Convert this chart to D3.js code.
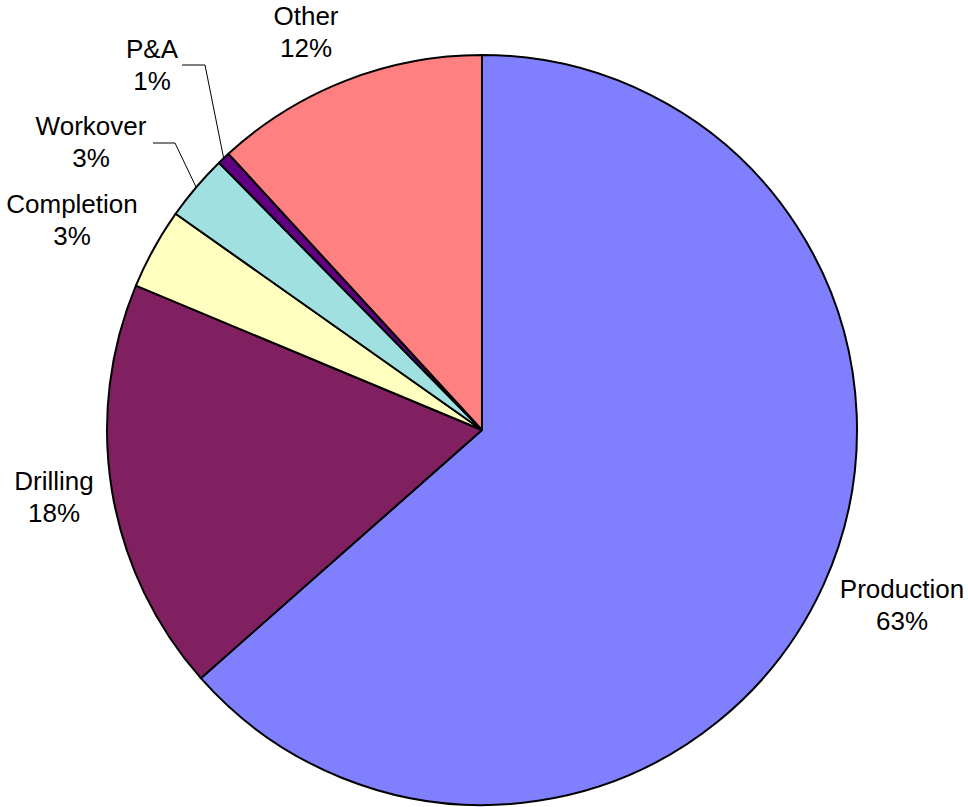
<!DOCTYPE html>
<html>
<head>
<meta charset="utf-8">
<script src="https://cdn.jsdelivr.net/npm/d3@7"></script>
<style>
  html, body { margin: 0; padding: 0; background: #fff; }
  svg { display: block; }
  text { font-family: "Liberation Sans", Arial, sans-serif; font-size: 26px; fill: #000; }
</style>
</head>
<body>
<svg id="chart" width="968" height="807"></svg>
<script>
// ---- data ----
const categories = ["Production", "Drilling", "Completion", "Workover", "P&A", "Other"];
const values = [63.49, 17.8, 3.49, 2.85, 0.55, 11.82];
const colors = ["#8080FF", "#802060", "#FFFFC0", "#A0E0E0", "#600080", "#FF8080"];

// ---- layout (label anchor: centre x, first baseline y; optional leader elbow) ----
const labelLayout = {
  "Production": { x: 902, y: 598 },
  "Drilling":   { x: 54,  y: 490 },
  "Completion": { x: 72,  y: 213 },
  "Workover":   { x: 91,  y: 135, leader: [[153, 143], [175, 143]] },
  "P&A":        { x: 152, y: 58,  leader: [[182, 65], [205, 65]] },
  "Other":      { x: 306, y: 25 }
};

const cx = 482, cy = 430, R = 375, lineGap = 32;

const svg = d3.select("#chart");
const g = svg.append("g").attr("transform", `translate(${cx},${cy})`);

const data = categories.map((c, i) => ({ name: c, value: values[i], color: colors[i] }));
const total = d3.sum(values);

const pie = d3.pie().value(d => d.value).sort(null);
const arc = d3.arc().innerRadius(0).outerRadius(R);
const arcs = pie(data);

g.selectAll("path.slice")
  .data(arcs)
  .enter().append("path")
  .attr("class", "slice")
  .attr("d", arc)
  .attr("fill", d => d.data.color)
  .attr("stroke", "#000")
  .attr("stroke-width", 2)
  .attr("stroke-linejoin", "round");

// leader lines
arcs.forEach(a => {
  const L = labelLayout[a.data.name];
  if (!L.leader) return;
  const mid = (a.startAngle + a.endAngle) / 2;
  const end = [cx + R * Math.sin(mid), cy - R * Math.cos(mid)];
  const pts = L.leader.concat([end]);
  svg.append("path")
    .attr("d", d3.line()(pts))
    .attr("fill", "none")
    .attr("stroke", "#000")
    .attr("stroke-width", 1);
});

// labels
arcs.forEach(a => {
  const L = labelLayout[a.data.name];
  const t = svg.append("text").attr("text-anchor", "middle");
  t.append("tspan").attr("x", L.x).attr("y", L.y).text(a.data.name);
  t.append("tspan").attr("x", L.x).attr("y", L.y + lineGap)
    .text(Math.round(a.data.value / total * 100) + "%");
});
</script>
</body>
</html>
